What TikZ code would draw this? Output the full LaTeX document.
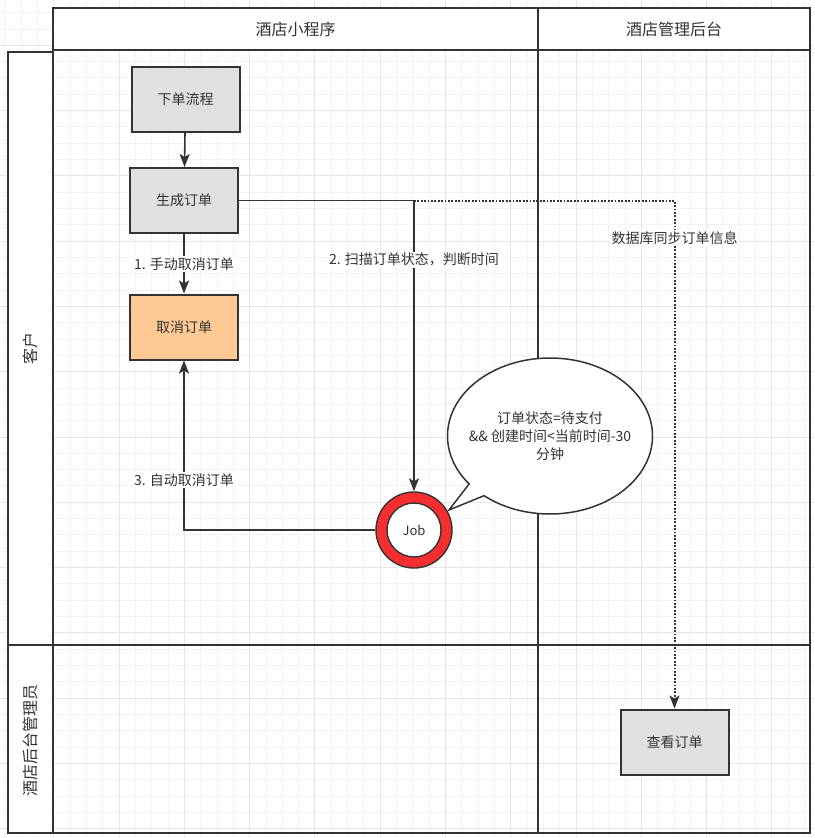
\documentclass[tikz,border=0pt]{standalone}
\usepackage{fontspec}
\setmainfont{Noto Sans CJK SC}
\usetikzlibrary{arrows.meta,shapes.callouts}
\definecolor{ink}{HTML}{333333}
\definecolor{gridminor}{HTML}{F3F3F3}
\definecolor{gridmajor}{HTML}{E6E6E6}
\definecolor{boxgray}{HTML}{E0E0E0}
\definecolor{boxorange}{HTML}{FFC993}
\definecolor{jobred}{HTML}{F52F2F}
\begin{document}
\begin{tikzpicture}[x=1pt,y=-1pt,
    lane/.style={draw=ink,line width=2pt},
    headtext/.style={text=ink,font=\fontsize{16}{19}\selectfont},
    box/.style={draw=ink,line width=2pt,fill=boxgray,minimum width=108pt,minimum height=65pt,text=ink,font=\fontsize{14}{17}\selectfont},
    flow/.style={draw=ink,line width=1.6pt,-{Stealth[length=13pt,width=10pt,inset=3pt]}},
    sync/.style={draw=ink,line width=2pt,dash pattern=on 1.8pt off 1.6pt,-{Stealth[length=13pt,width=10pt,inset=3pt]}},
    lbl/.style={fill=white,inner sep=1.5pt,text=ink,font=\fontsize{14}{17}\selectfont}]
    \useasboundingbox[fill=white](0,0)rectangle(814,838);
    \foreach \i in {0,...,49}\draw[gridminor,line width=1pt]({4.9+16.32*\i},0)--({4.9+16.32*\i},838);%縦線
    \foreach \j in {0,...,50}\draw[gridminor,line width=1pt](0,{12.7+16.32*\j})--(814,{12.7+16.32*\j});%横線
    \foreach \i in {3,7,...,47}\draw[gridmajor,line width=1pt]({4.9+16.32*\i},0)--({4.9+16.32*\i},838);
    \foreach \j in {2,6,...,50}\draw[gridmajor,line width=1pt](0,{12.7+16.32*\j})--(814,{12.7+16.32*\j});
    \draw[lane,fill=white](53,8)rectangle(810,50);%表头
    \draw[lane](53,50)rectangle(810,833);
    \draw[lane,fill=white](8,52)rectangle(53,645);
    \draw[lane,fill=white](8,645)rectangle(53,833);
    \draw[lane](538,8)--(538,833);
    \draw[lane](53,645)--(810,645);
    \node[headtext](hApp)at(295.5,29){酒店小程序};
    \node[headtext](hAdmin)at(674,29){酒店管理后台};
    \node[headtext,rotate=90](lCustomer)at(30.5,348){客户};
    \node[headtext,rotate=90](lStaff)at(30.5,740){酒店后台管理员};
    \node[box](order)at(185.5,99){下单流程};
    \node[box](create)at(184,200.5){生成订单};
    \node[box,fill=boxorange](cancel)at(184,327){取消订单};
    \node[box](view)at(674.5,742){查看订单};
    \node[circle,draw=ink,line width=1.4pt,fill=jobred,minimum size=76pt,inner sep=0pt](job)at(414,530){};
    \node[circle,draw=ink,line width=1.4pt,fill=white,minimum size=54pt,inner sep=0pt,text=ink,font=\fontsize{13}{16}\selectfont](jobIn)at(job){Job};
    \node[ellipse callout,draw=ink,line width=1.5pt,fill=white,inner sep=0pt,minimum width=205pt,minimum height=156pt,callout absolute pointer={(449,510)},callout pointer arc=12](note)at(550,436){};%吹き出し
    \node[align=center,text=ink,font=\fontsize{14}{18}\selectfont](noteText)at(note.center){订单状态=待支付\\\&\& 创建时间<当前时间-30\\分钟};
    \coordinate(turn)at(create.east-|job.north);%分岐点
    \draw[sync](turn)-|node[lbl,pos=0.537]{数据库同步订单信息}(view.north);
    \draw[flow](order)--(create);
    \draw[flow](create)--node[lbl]{1. 手动取消订单}(cancel);
    \draw[flow](create.east)-|node[lbl,pos=0.602]{2. 扫描订单状态，判断时间}(job.north);
    \draw[flow](job.west)-|node[lbl,pos=0.647]{3. 自动取消订单}(cancel.south);
  \end{tikzpicture}
\end{document}
